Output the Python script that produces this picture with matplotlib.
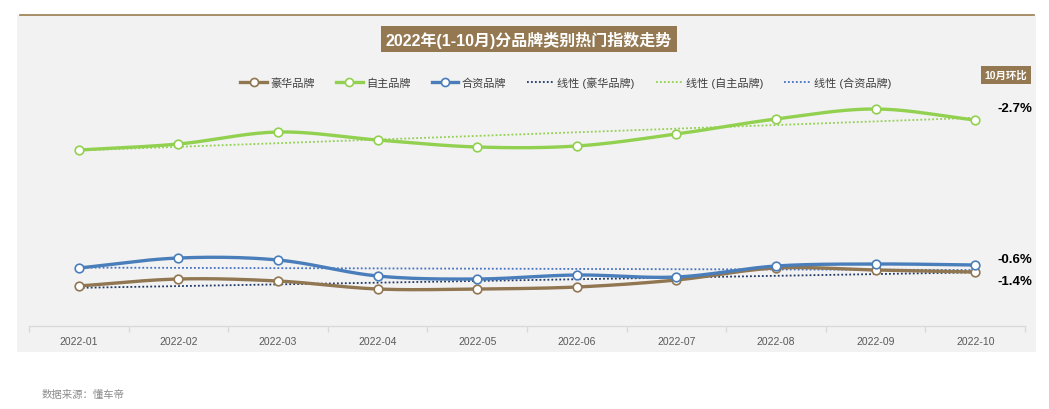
import matplotlib
matplotlib.use('Agg')

import matplotlib.pyplot as plt
import numpy as np
from matplotlib.lines import Line2D
from matplotlib.patches import Rectangle

plt.rcParams['font.family'] = ['Liberation Sans', 'Noto Sans CJK SC', 'DejaVu Sans']

months = ["2022-01", "2022-02", "2022-03", "2022-04", "2022-05",
          "2022-06", "2022-07", "2022-08", "2022-09", "2022-10"]
# index values (no axis shown, relative scale)
luxury = [40, 47, 45, 37, 37, 39, 46, 58, 56, 54]
domestic = [176, 182, 194, 186, 179, 180, 192, 207, 217, 206]
joint = [58, 68, 66, 50, 47, 51, 49, 60, 62, 61]
mom_labels = ["-2.7%", "-0.6%", "-1.4%"]

c_lux = "#917652"
c_dom = "#92D050"
c_joint = "#4A7EBB"
c_lux_trend = "#1F3864"
c_dom_trend = "#92D050"
c_joint_trend = "#4472C4"


def smooth(y, n=20):
    # catmull-rom style smoothing like excel "smoothed line"
    y = np.asarray(y, dtype=float)
    x = np.arange(len(y), dtype=float)
    px = np.concatenate([[2 * x[0] - x[1]], x, [2 * x[-1] - x[-2]]])
    py = np.concatenate([[2 * y[0] - y[1]], y, [2 * y[-1] - y[-2]]])
    xs, ys = [], []
    t = np.linspace(0, 1, n, endpoint=False)
    for i in range(1, len(px) - 2):
        p0, p1, p2, p3 = py[i - 1], py[i], py[i + 1], py[i + 2]
        q0, q1, q2, q3 = px[i - 1], px[i], px[i + 1], px[i + 2]
        ys.append(0.5 * (2 * p1 + (-p0 + p2) * t + (2 * p0 - 5 * p1 + 4 * p2 - p3) * t ** 2
                         + (-p0 + 3 * p1 - 3 * p2 + p3) * t ** 3))
        xs.append(0.5 * (2 * q1 + (-q0 + q2) * t + (2 * q0 - 5 * q1 + 4 * q2 - q3) * t ** 2
                         + (-q0 + 3 * q1 - 3 * q2 + q3) * t ** 3))
    xs.append([x[-1]])
    ys.append([y[-1]])
    return np.concatenate(xs), np.concatenate(ys)


W, H = 1049, 410
fig = plt.figure(figsize=(W / 100, H / 100), dpi=100)
fig.patch.set_facecolor("white")

# grey panel + brown top rule
fig.patches.append(Rectangle((17 / W, 1 - 353 / H), (1036 - 17) / W, (353 - 16) / H,
                             transform=fig.transFigure, facecolor="#F2F2F2",
                             edgecolor="none", zorder=-5))
fig.add_artist(Line2D([20 / W, 1034 / W], [1 - 16 / H, 1 - 16 / H],
                      transform=fig.transFigure, color="#9B7B4F", lw=1.2))

ax = fig.add_axes([29 / W, 1 - 327 / H, 996 / W, 231 / H])
ax.set_zorder(2)
ax.set_facecolor("none")
x = np.arange(len(months))

series = [
    ("豪华品牌", luxury, c_lux, c_lux_trend),
    ("自主品牌", domestic, c_dom, c_dom_trend),
    ("合资品牌", joint, c_joint, c_joint_trend),
]

handles_main = []
handles_trend = []
for name, vals, col, tcol in series:
    k, b = np.polyfit(x, vals, 1)
    ax.plot(x, k * x + b, linestyle=(0, (1, 1.2)), color=tcol, lw=1.3, zorder=2)
    sx, sy = smooth(vals)
    ax.plot(sx, sy, color=col, lw=2.4, zorder=3, solid_capstyle="round")
    ax.plot(x, vals, linestyle="none", marker="o", ms=6.2, mfc="white",
            mec=col, mew=1.2, zorder=4)
    handles_main.append(Line2D([], [], color=col, lw=2.4, marker="o", ms=5.8,
                               mfc="white", mec=col, mew=1.2))
    handles_trend.append(Line2D([], [], color=tcol, lw=1.3, linestyle=(0, (1, 1.2))))

ax.set_xlim(-0.5, len(months) - 0.5)
ax.set_ylim(0, 231)
ax.set_yticks([])
for s in ["top", "left", "right"]:
    ax.spines[s].set_visible(False)
ax.spines["bottom"].set_color("#D9D9D9")
ax.spines["bottom"].set_linewidth(1.0)
ax.set_xticks(x)
ax.set_xticklabels(months, fontsize=7.5, color="#595959")
ax.tick_params(axis="x", which="major", length=0, pad=7)
ax.set_xticks(np.arange(-0.5, len(months), 1), minor=True)
ax.tick_params(axis="x", which="minor", length=4, color="#D9D9D9", width=1)

labels = [n for n, *_ in series] + ["线性 (%s)" % n for n, *_ in series]
fig.legend(handles_main + handles_trend, labels, loc="center",
           bbox_to_anchor=(566 / W, 1 - 83 / H), ncol=6, frameon=False,
           fontsize=8, handlelength=2.4, columnspacing=1.9, handletextpad=0.3,
           labelcolor="#404040")

# title box
fig.text(529 / W, 1 - 40 / H, "2022年(1-10月)分品牌类别热门指数走势", ha="center",
         va="center", fontsize=11.5, fontweight="bold", color="white",
         bbox=dict(boxstyle="square,pad=0.3", facecolor="#937852", edgecolor="none"))

# month-on-month labels
fig.text(1006 / W, 1 - 76 / H, "10月环比", ha="center", va="center", fontsize=7.5,
         fontweight="bold", color="white",
         bbox=dict(boxstyle="square,pad=0.35", facecolor="#937852", edgecolor="none"))
for lab, yy in zip(mom_labels, [109, 260, 282]):
    fig.text(1015 / W, 1 - yy / H, lab, ha="center", va="center", fontsize=9.5,
             fontweight="bold", color="black")

fig.text(42 / W, 1 - 395 / H, "数据来源：懂车帝", ha="left", va="center",
         fontsize=7.5, color="#8C8C8C")

fig.savefig("out.png", dpi=100)
